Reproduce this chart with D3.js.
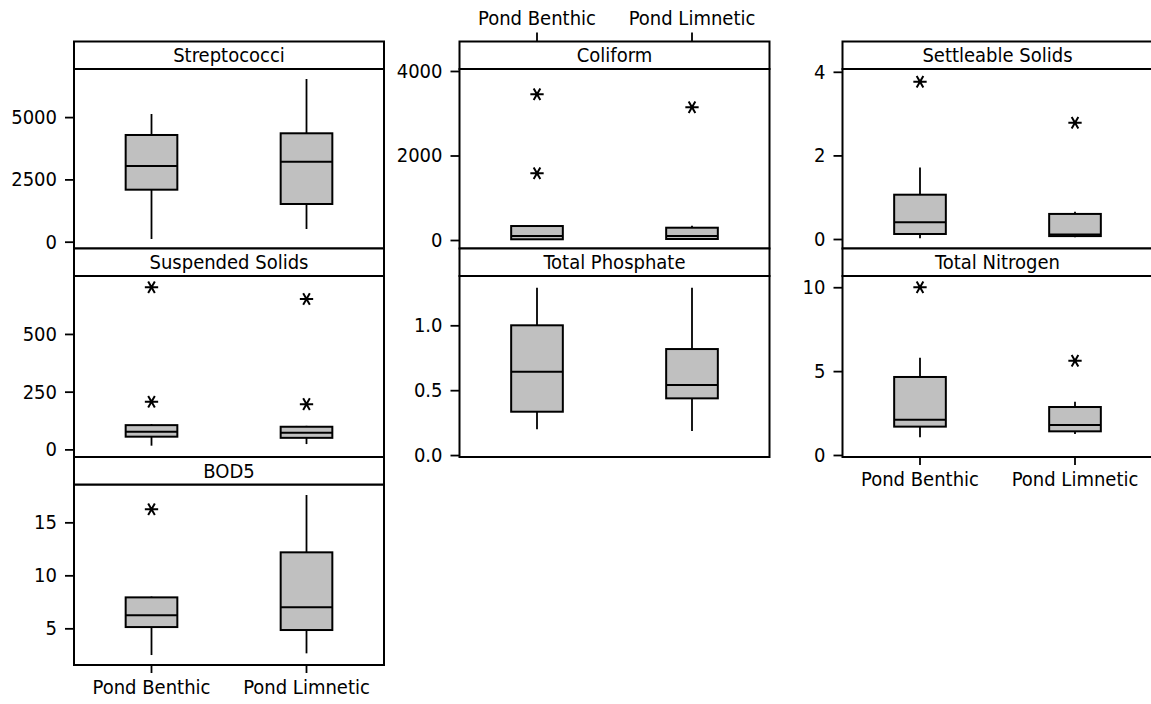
<!DOCTYPE html>
<html>
<head>
<meta charset="utf-8">
<script src="https://cdn.jsdelivr.net/npm/d3@7"></script>
<style>
  body { margin: 0; background: #fff; }
  text { font-family: "DejaVu Sans Condensed", "DejaVu Sans", sans-serif; font-size: 20px; fill: #000; }
</style>
</head>
<body>
<script>
// Data: boxplot summaries
const groups = ["Pond Benthic", "Pond Limnetic"];
const measures = ["Streptococci", "Coliform", "Settleable Solids", "Suspended Solids",
                  "Total Phosphate", "Total Nitrogen", "BOD5"];

const whiskerLow  = [[108, 510], [8, 8], [0.02, 0.04], [16, 23], [0.198, 0.185], [1.06, 1.25], [2.48, 2.64]];
const q1          = [[2087, 1513], [17, 24], [0.12, 0.07], [55, 50], [0.334, 0.437], [1.69, 1.41], [5.12, 4.84]];
const median      = [[3038, 3210], [95, 95], [0.40, 0.11], [76, 72], [0.642, 0.54], [2.1, 1.79], [6.23, 7.0]];
const q3          = [[4282, 4350], [331, 291], [1.06, 0.60], [105, 98], [1.0, 0.817], [4.65, 2.86], [7.92, 12.17]];
const whiskerHigh = [[5124, 6529], [350, 335], [1.71, 0.65], [110, 102], [1.29, 1.29], [5.8, 3.18], [8.0, 17.58]];
const outliers    = [[[], []], [[3449, 1578], [3141]], [[3.76], [2.78]], [[702, 206], [651, 196]],
                     [[], []], [[10.0], [5.62]], [[16.23], []]];

const yTicks = [[0, 2500, 5000], [0, 2000, 4000], [0, 2, 4], [0, 250, 500],
                [0, 0.5, 1.0], [0, 5, 10], [5, 10, 15]];
const yDomains = [[-273, 6930], [-201, 4047], [-0.227, 4.067], [-33, 751],
                  [-0.015, 1.38], [-0.12, 10.67], [1.54, 18.57]];

// Layout
const width = 1151, height = 704;
const colLeft = [74, 459.5, 842.5];
const panelW = 310;
const rowTop = [41.5, 248.5, 457];
const rowBottom = [248.5, 457, 665];
const stripH = 27.5;
const panelCol = [0, 1, 2, 0, 1, 2, 0];
const panelRow = [0, 0, 0, 1, 1, 1, 2];
// where each column puts its category axis
const xAxisAt = [{row: 2, side: "bottom"}, {row: 0, side: "top"}, {row: 1, side: "bottom"}];

const fontSize = 20;

const svg = d3.select("body")
    .append("svg")
    .attr("width", width)
    .attr("height", height);

// asterisk symbol, turned so one arm is horizontal
const star = d3.symbol().type(d3.symbolAsterisk).size(125);

measures.forEach((name, i) => {
    const x0 = colLeft[panelCol[i]];
    const top = rowTop[panelRow[i]];
    const plotTop = top + stripH;
    const bottom = rowBottom[panelRow[i]];

    const x = d3.scaleBand().domain(groups).range([x0, x0 + panelW]);
    const y = d3.scaleLinear().domain(yDomains[i]).range([bottom, plotTop]);
    const boxW = x.bandwidth() / 3;

    const g = svg.append("g");

    // plot frame
    g.append("rect")
        .attr("x", x0).attr("y", plotTop)
        .attr("width", panelW).attr("height", bottom - plotTop)
        .attr("fill", "#fff").attr("stroke", "#000").attr("stroke-width", 2);

    // strip with title
    g.append("rect")
        .attr("x", x0).attr("y", top)
        .attr("width", panelW).attr("height", stripH)
        .attr("fill", "#fff").attr("stroke", "#000").attr("stroke-width", 2);
    g.append("text")
        .attr("x", x0 + panelW / 2).attr("y", top + stripH / 2)
        .attr("dy", "0.36em")
        .attr("text-anchor", "middle")
        .text(name);

    // boxes
    const rows = groups.map((grp, j) => ({
        grp, lo: whiskerLow[i][j], q1: q1[i][j], med: median[i][j], q3: q3[i][j],
        hi: whiskerHigh[i][j], out: outliers[i][j]
    }));
    const bx = g.selectAll(".box").data(rows).join("g").attr("class", "box");
    const cx = d => x(d.grp) + x.bandwidth() / 2;

    bx.append("line")
        .attr("x1", cx).attr("x2", cx)
        .attr("y1", d => y(d.q3)).attr("y2", d => y(d.hi))
        .attr("stroke", "#000").attr("stroke-width", 1.8);
    bx.append("line")
        .attr("x1", cx).attr("x2", cx)
        .attr("y1", d => y(d.q1)).attr("y2", d => y(d.lo))
        .attr("stroke", "#000").attr("stroke-width", 1.8);
    bx.append("rect")
        .attr("x", d => cx(d) - boxW / 2)
        .attr("y", d => y(d.q3))
        .attr("width", boxW)
        .attr("height", d => y(d.q1) - y(d.q3))
        .attr("fill", "#c0c0c0").attr("stroke", "#000").attr("stroke-width", 2);
    bx.append("line")
        .attr("x1", d => cx(d) - boxW / 2).attr("x2", d => cx(d) + boxW / 2)
        .attr("y1", d => y(d.med)).attr("y2", d => y(d.med))
        .attr("stroke", "#000").attr("stroke-width", 2);
    bx.selectAll("path.out")
        .data(d => d.out.map(v => ({v, c: cx(d)})))
        .join("path")
        .attr("class", "out")
        .attr("d", star)
        .attr("transform", d => `translate(${d.c},${y(d.v)}) rotate(90)`)
        .attr("fill", "none").attr("stroke", "#000").attr("stroke-width", 2);

    // y axis
    const fmt = i === 4 ? d3.format(".1f") : d3.format("d");
    const ya = g.append("g")
        .attr("transform", `translate(${x0},0)`)
        .call(d3.axisLeft(y).tickValues(yTicks[i]).tickFormat(fmt).tickSize(9).tickPadding(8));
    ya.attr("font-size", fontSize).attr("font-family", null);
    ya.select(".domain").remove();
    ya.selectAll("line").attr("stroke", "#000").attr("stroke-width", 1.8);
    ya.selectAll("text").attr("fill", "#000");

    // category axis
    const xa = xAxisAt[panelCol[i]];
    if (xa.row === panelRow[i]) {
        const isTop = xa.side === "top";
        const axis = isTop
            ? d3.axisTop(x).tickSize(9).tickPadding(8)
            : d3.axisBottom(x).tickSize(8).tickPadding(7);
        const xg = g.append("g")
            .attr("transform", `translate(0,${isTop ? top : bottom})`)
            .call(axis);
        xg.attr("font-size", fontSize).attr("font-family", null);
        xg.select(".domain").remove();
        xg.selectAll("line").attr("stroke", "#000").attr("stroke-width", 1.8);
        xg.selectAll("text").attr("fill", "#000");
    }
});
</script>
</body>
</html>
